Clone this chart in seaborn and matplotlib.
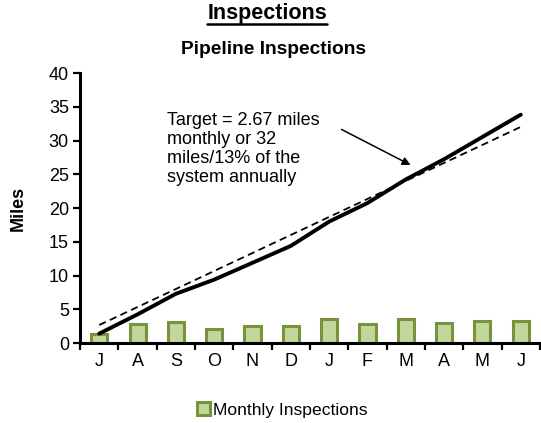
import numpy as np
import pandas as pd
import matplotlib
matplotlib.use("Agg")
import matplotlib.pyplot as plt
import seaborn as sns

months = ["J", "A", "S", "O", "N", "D", "J", "F", "M", "A", "M", "J"]
monthly = [1.4, 2.85, 3.05, 2.1, 2.5, 2.5, 3.6, 2.75, 3.5, 3.0, 3.3, 3.3]
cumulative = [1.4, 4.25, 7.3, 9.4, 11.9, 14.4, 18.0, 20.75, 24.25, 27.25, 30.55, 33.85]
target = [2.67, 5.34, 8.01, 10.68, 13.35, 16.02, 18.69, 21.36, 24.03, 26.70, 29.37, 32.04]
y_ticks = [0, 5, 10, 15, 20, 25, 30, 35, 40]

df = pd.DataFrame({"pos": np.arange(len(months)), "monthly": monthly,
                   "cumulative": cumulative, "target": target})

sns.set_theme(style="white")
plt.rcParams["font.family"] = ["Liberation Sans", "DejaVu Sans"]
plt.rcParams["text.color"] = "black"
plt.rcParams["axes.labelcolor"] = "black"
plt.rcParams["xtick.color"] = "black"
plt.rcParams["ytick.color"] = "black"

fig = plt.figure(figsize=(5.41, 4.23), dpi=100)
ax = fig.add_axes([0.148, 0.189, 0.850, 0.638])

sns.barplot(data=df, x="pos", y="monthly", ax=ax, width=0.42,
            color="#C3D69B", edgecolor="#77933C", linewidth=2.2,
            saturation=1, label="Monthly Inspections", zorder=2)
sns.lineplot(data=df, x="pos", y="target", ax=ax, color="black",
             linewidth=1.3, linestyle=(0, (4, 2.5)), zorder=3)
sns.lineplot(data=df, x="pos", y="cumulative", ax=ax, color="black",
             linewidth=2.8, zorder=4)
handles, labels = ax.get_legend_handles_labels()
if ax.get_legend() is not None:
    ax.get_legend().remove()

ax.set_xlim(-0.5, len(months) - 0.5)
ax.set_ylim(0, 40)
ax.set_yticks(y_ticks)
ax.set_yticklabels([str(v) for v in y_ticks], fontsize=13)
ax.set_xticks(np.arange(len(months)))
ax.set_xticklabels(months, fontsize=13)
ax.set_xticks(np.arange(len(months) + 1) - 0.5, minor=True)
ax.tick_params(axis="x", which="major", length=0, pad=7)
ax.tick_params(axis="x", which="minor", length=5, width=1.6, direction="out",
               color="black", bottom=True)
ax.tick_params(axis="y", which="major", length=5, width=1.6, direction="out",
               color="black", left=True, pad=3)
ax.set_xlabel("")
ax.set_ylabel("Miles", fontsize=13, fontweight="bold", labelpad=16)

for side in ["top", "right"]:
    ax.spines[side].set_visible(False)
for side in ["left", "bottom"]:
    ax.spines[side].set_color("black")
    ax.spines[side].set_linewidth(2.2)

ax.annotate("", xy=(8.19, 26.2), xytext=(6.26, 31.85),
            arrowprops=dict(arrowstyle="-|>", color="black", lw=1.1,
                            mutation_scale=12))
ax.text(1.77, 34.3, "Target = 2.67 miles\nmonthly or 32\nmiles/13% of the\nsystem annually",
        fontsize=13, va="top", ha="left", linespacing=1.17)

fig.text(0.495, 0.967, "Inspections", fontsize=15.5, fontweight="bold",
         ha="center", va="center")
fig.add_artist(plt.Line2D([0.383, 0.605], [0.944, 0.944], color="black", lw=1.8,
                          transform=fig.transFigure))
fig.text(0.505, 0.884, "Pipeline Inspections", fontsize=13.8, fontweight="bold",
         ha="center", va="center")

bar_handles = [h for h, l in zip(handles, labels) if l == "Monthly Inspections"]
fig.legend(bar_handles[:1], ["Monthly Inspections"], loc="center",
           bbox_to_anchor=(0.522, 0.031), frameon=False, fontsize=12.6,
           handlelength=0.7, handleheight=0.7, handletextpad=0.2)

fig.savefig("out.png", dpi=100)
